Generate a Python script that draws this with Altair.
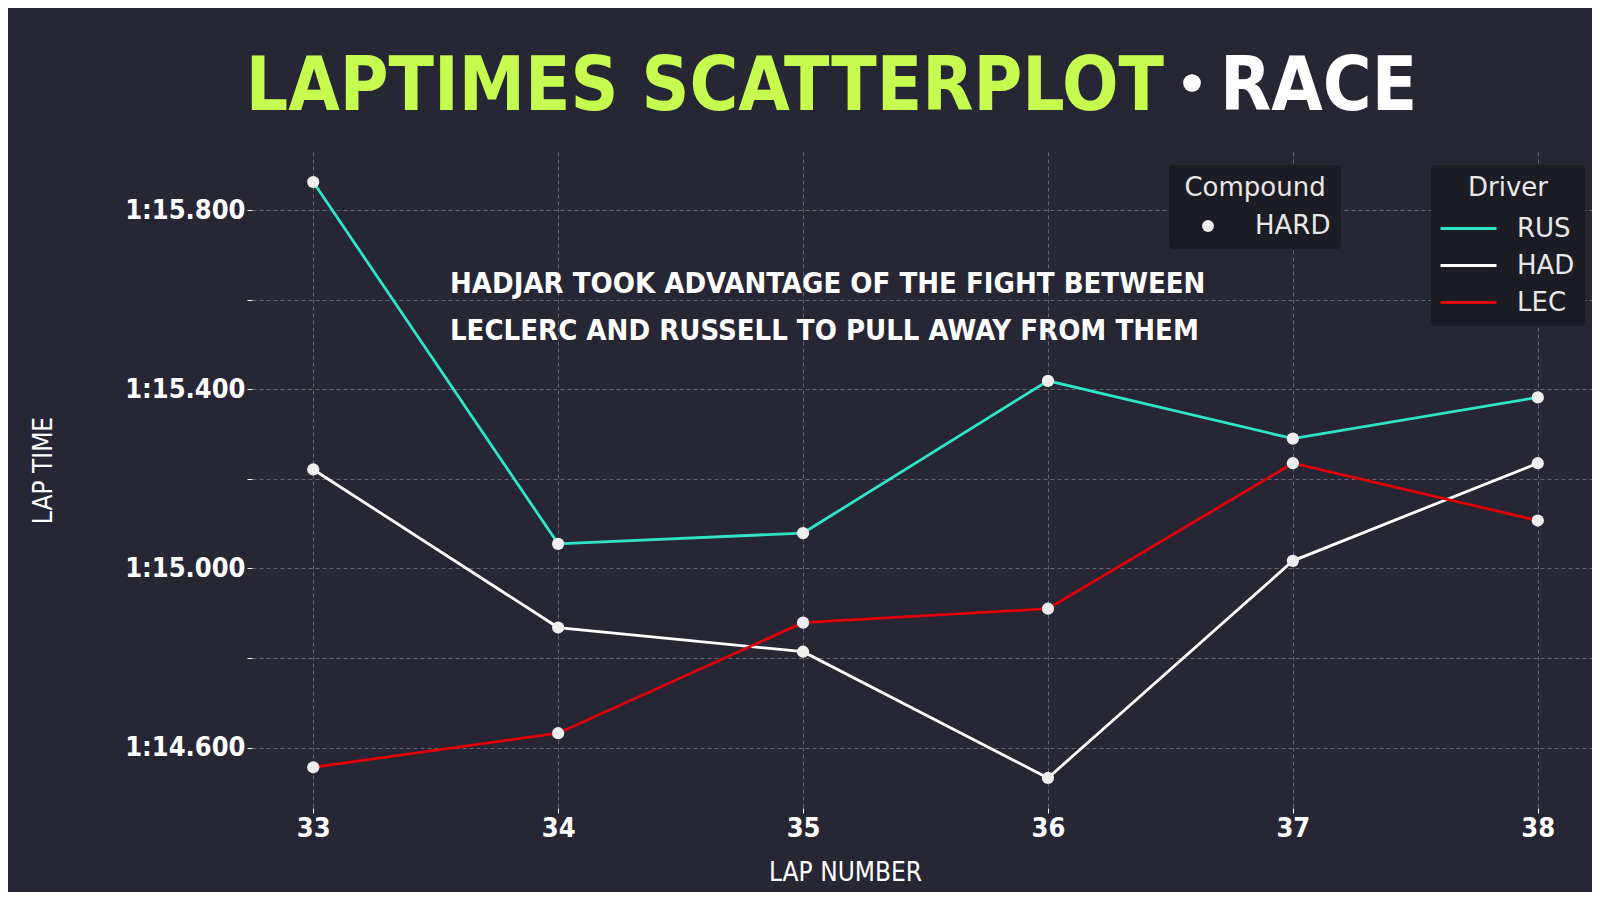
import altair as alt
import pandas as pd

# ---------------- data ----------------
LAPS = [33, 34, 35, 36, 37, 38]
DRIVERS = ["RUS", "HAD", "LEC"]
RUS_TIMES = [75.863, 75.055, 75.079, 75.419, 75.290, 75.382]
HAD_TIMES = [75.221, 74.868, 74.814, 74.532, 75.017, 75.235]
LEC_TIMES = [74.556, 74.632, 74.879, 74.910, 75.235, 75.107]
COMPOUND = "HARD"
DRIVER_COLORS = ["#2ee6c6", "#ffffff", "#e0000a"]
Y_TICKS = [74.6, 74.8, 75.0, 75.2, 75.4, 75.6, 75.8]

TITLE_MAIN = "LAPTIMES SCATTERPLOT"
TITLE_SEP = "•"
TITLE_SESSION = "RACE"
ANNOTATION = ["HADJAR TOOK ADVANTAGE OF THE FIGHT BETWEEN",
              "LECLERC AND RUSSELL TO PULL AWAY FROM THEM"]
X_TITLE = "LAP NUMBER"
Y_TITLE = "LAP TIME"

rows = []
for drv, times in zip(DRIVERS, [RUS_TIMES, HAD_TIMES, LEC_TIMES]):
    for lap, t in zip(LAPS, times):
        rows.append({"Driver": drv, "Lap": lap, "Time": t, "Compound": COMPOUND})
df = pd.DataFrame(rows)

# ---------------- style ----------------
BG = "#262634"
LIME = "#c6fb50"
COND_FONT = "DejaVu Sans Condensed, DejaVu Sans, sans-serif"
LEG_FONT = "DejaVu Sans"

x_enc = alt.X(
    "Lap:Q",
    scale=alt.Scale(domain=[32.75, 38.2214], nice=False, zero=False),
    axis=alt.Axis(values=LAPS, format="d", title=X_TITLE, labelPadding=2,
                  titleX=593, titleY=72, titleAlign="center", titleBaseline="alphabetic"),
)
y_enc = alt.Y(
    "Time:Q",
    scale=alt.Scale(domain=[74.465, 75.930], nice=False, zero=False),
    axis=alt.Axis(
        values=Y_TICKS,
        labelExpr="(round(datum.value*10) % 4 == 2) ? (floor(datum.value/60) + ':' + format(datum.value - 60*floor(datum.value/60), '06.3f')) : ''",
        title=Y_TITLE, labelPadding=2,
        titleAngle=270, titleX=-209, titleY=318, titleAlign="center", titleBaseline="middle",
    ),
)

lines = alt.Chart(df).mark_line(strokeWidth=2.8).encode(
    x=x_enc,
    y=y_enc,
    color=alt.Color(
        "Driver:N",
        scale=alt.Scale(domain=DRIVERS, range=DRIVER_COLORS),
        sort=DRIVERS,
        legend=alt.Legend(title="Driver", orient="none", legendX=1179, legendY=13,
                          symbolType="M-2,0L2,0", symbolSize=784, symbolStrokeWidth=3,
                          symbolOffset=12, labelOffset=33, rowPadding=8),
    ),
    detail="Driver:N",
)

points = alt.Chart(df).mark_point(filled=True, size=150, color="#eeeeee", opacity=1).encode(
    x="Lap:Q",
    y="Time:Q",
    shape=alt.Shape(
        "Compound:N",
        scale=alt.Scale(domain=[COMPOUND], range=["circle"]),
        legend=alt.Legend(title="Compound", orient="none", legendX=917, legendY=13,
                          symbolFillColor="#eeeeee", symbolStrokeColor="#eeeeee",
                          symbolSize=140, symbolOffset=16, labelOffset=34),
    ),
)

title_main = alt.Chart(pd.DataFrame({"t": [TITLE_MAIN]})).mark_text(
    align="right", baseline="alphabetic", font=COND_FONT, fontSize=74,
    fontWeight="bold", color=LIME,
).encode(text="t:N", x=alt.value(912), y=alt.value(-42))

title_sep = alt.Chart(pd.DataFrame({"t": [TITLE_SEP]})).mark_circle(
    size=314, color="#ffffff", opacity=1,
).encode(x=alt.value(940), y=alt.value(-69))

title_sess = alt.Chart(pd.DataFrame({"t": [TITLE_SESSION]})).mark_text(
    align="left", baseline="alphabetic", font=COND_FONT, fontSize=74,
    fontWeight="bold", color="#ffffff",
).encode(text="t:N", x=alt.value(968), y=alt.value(-42))

annot = alt.Chart(pd.DataFrame({"t": ["\n".join(ANNOTATION)]})).mark_text(
    align="left", baseline="alphabetic", font=COND_FONT, fontSize=29,
    fontWeight="bold", color="#ffffff", lineBreak="\n", lineHeight=47,
).encode(text="t:N", x=alt.value(198), y=alt.value(140.9))

chart = alt.layer(lines, points, title_main, title_sep, title_sess, annot).properties(
    width=1340, height=656,
    padding={"left": 244, "top": 144, "right": 0, "bottom": 84},
    autosize=alt.AutoSizeParams(type="none"),
    background=BG,
).configure_view(
    strokeWidth=0,
).configure_axis(
    domain=False,
    tickColor="#ffffff", tickSize=5, tickWidth=1,
    grid=True, gridColor="#8a8a98", gridDash=[4, 3], gridWidth=0.8, gridOpacity=0.8,
    labelColor="#ffffff", labelFont=COND_FONT, labelFontSize=27, labelFontWeight="bold",
    titleColor="#ffffff", titleFont=COND_FONT, titleFontSize=26, titleFontWeight="normal",
).configure_legend(
    fillColor="#1c1c24", padding=10, cornerRadius=4,
    titleFont=LEG_FONT, titleFontSize=26, titleFontWeight="normal", titleColor="#e8e8e8",
    titleAnchor="middle", titleAlign="center", titlePadding=12,
    labelFont=LEG_FONT, labelFontSize=26, labelColor="#e8e8e8",
)

chart.save("out.html", embed_options={"renderer": "svg", "actions": False})
